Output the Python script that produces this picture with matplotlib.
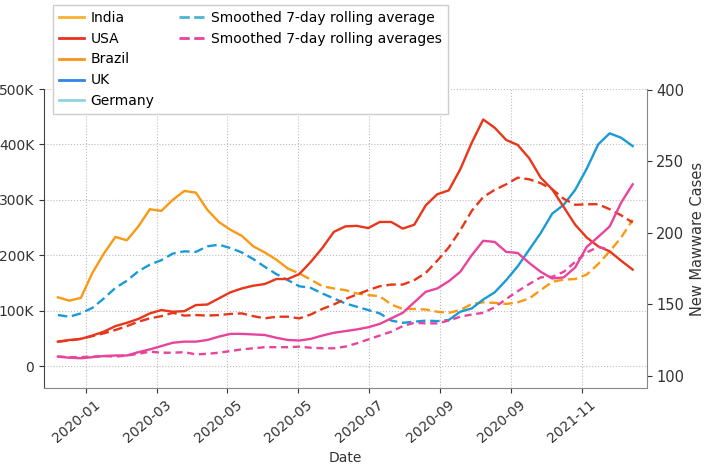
import numpy as np
import pandas as pd
import matplotlib
matplotlib.use('Agg')
import matplotlib.pyplot as plt
from matplotlib.lines import Line2D
from matplotlib.ticker import FuncFormatter
from matplotlib.transforms import ScaledTranslation

# sample dates (evenly spaced)
dates = pd.date_range('2019-12-08', '2021-04-16', periods=51)
tick_dates = pd.date_range('2020-01-01', periods=8, freq='61D')
tick_labels = ['2020-01', '2020-03', '2020-05', '2020-05', '2020-07', '2020-09', '2020-09', '2021-11']

# values in thousands (left axis)
orange_k = [124, 118, 123, 168, 203, 233, 227, 252, 283, 280, 300, 316, 313, 282, 260, 246, 235, 216, 205, 192,
            176, 167, 156, 144, 140, 137, 131, 128, 126, 111, 103, 103, 102, 98, 96, 101, 112, 115, 114, 112,
            115, 122, 137, 152, 156, 157, 165, 184, 207, 232, 264]
orange_split = 20
blue_k = [92, 89, 95, 105, 122, 141, 154, 171, 183, 191, 203, 207, 206, 216, 219, 213, 205, 193, 179, 166,
          155, 144, 141, 131, 122, 113, 107, 101, 95, 82, 78, 80, 82, 81, 83, 98, 104, 120, 133, 155,
          180, 210, 240, 275, 291, 318, 356, 400, 420, 412, 397]
blue_split = 34
usa_k = [44, 47, 49, 55, 62, 72, 78, 85, 95, 101, 98, 99, 110, 111, 122, 133, 140, 145, 148, 157,
         157, 166, 188, 213, 242, 252, 253, 249, 260, 260, 248, 255, 290, 310, 317, 355, 403, 445, 430, 408,
         399, 375, 340, 319, 287, 255, 232, 216, 207, 190, 174]
usa_avg_k = [44, 46, 49, 54, 59, 65, 72, 80, 86, 90, 96, 91, 92, 91, 92, 94, 95, 90, 86, 89,
             89, 86, 93, 103, 111, 121, 129, 137, 144, 147, 147, 155, 168, 190, 214, 245, 280, 305, 318, 328,
             340, 337, 330, 319, 302, 291, 292, 292, 283, 272, 259]
pink_k = [17, 15, 14, 16, 18, 19, 19, 25, 30, 36, 42, 44, 44, 47, 53, 58, 58, 57, 56, 51,
          47, 46, 49, 55, 60, 63, 66, 70, 76, 86, 96, 115, 134, 140, 153, 170, 200, 226, 224, 206,
          204, 186, 170, 158, 160, 178, 215, 233, 252, 295, 328]
pink_avg_k = [17, 16, 16, 17, 18, 17, 19, 22, 26, 24, 24, 25, 21, 22, 24, 27, 30, 32, 34, 34,
              34, 35, 33, 32, 32, 35, 41, 48, 55, 62, 72, 78, 77, 77, 82, 89, 93, 96, 106, 121,
              135, 148, 160, 161, 170, 188, 205, 215, 210]

legend_names = ['India', 'USA', 'Brazil', 'UK', 'Germany']
legend_colors = ['#f7b236', '#e8341c', '#f7941d', '#2f86e6', '#8fd3de']
avg_names = ['Smoothed 7-day rolling average', 'Smoothed 7-day rolling averages']
avg_colors = ['#4db5cc', '#e8429c']

c_orange = '#fa9914'
c_red = '#e8361a'
c_blue = '#1b9ad8'
c_pink = '#e8449c'

fig = plt.figure(figsize=(7.09, 4.66), dpi=100)
ax = fig.add_axes([0.062, 0.167, 0.850, 0.642])

k = 1000
orange = np.array(orange_k) * k
blue = np.array(blue_k) * k
lw = 1.7
ax.plot(dates[:orange_split + 1], orange[:orange_split + 1], color=c_orange, lw=lw)
ax.plot(dates[orange_split:], orange[orange_split:], color=c_orange, lw=lw, dashes=(4, 2))
ax.plot(dates[:blue_split + 1], blue[:blue_split + 1], color=c_blue, lw=lw, dashes=(4, 2))
ax.plot(dates[blue_split:], blue[blue_split:], color=c_blue, lw=lw)
ax.plot(dates, np.array(usa_k) * k, color=c_red, lw=lw)
ax.plot(dates, np.array(usa_avg_k) * k, color=c_red, lw=lw, dashes=(4, 2))
ax.plot(dates, np.array(pink_k) * k, color=c_pink, lw=lw)
ax.plot(dates[:len(pink_avg_k)], np.array(pink_avg_k) * k, color=c_pink, lw=lw, dashes=(3, 2))

ax.set_ylim(-40000, 500000)
ax.set_yticks(np.arange(0, 500001, 100000))
ax.yaxis.set_major_formatter(FuncFormatter(lambda v, p: '0' if v == 0 else f'{v / 1000:.0f}K'))
ax.set_xlim(pd.Timestamp('2019-11-26'), pd.Timestamp('2021-04-28'))
ax.set_xticks(tick_dates)
ax.set_xticklabels(tick_labels, rotation=40, ha='right', rotation_mode='anchor')
shift = ScaledTranslation(0.08, 0, fig.dpi_scale_trans)
for lab in ax.get_xticklabels():
    lab.set_transform(lab.get_transform() + shift)
ax.set_xlabel('Date', fontsize=10, color='#333333')
ax.grid(True, linestyle=':', color='#bbbbbb', lw=0.8)
ax.tick_params(axis='x', labelsize=10, colors='#333333')
ax.tick_params(axis='y', labelsize=10, colors='#333333')
for s in ['top', 'right']:
    ax.spines[s].set_visible(False)
ax.spines['left'].set_color('#444444')
ax.spines['bottom'].set_color('#888888')

ax2 = ax.twinx()
ax2.set_ylim(91.5, 300.5)
ax2.set_yticks([100, 150, 200, 250, 300])
ax2.set_yticklabels(['100', '150', '200', '250', '400'])
ax2.set_ylabel('New Mawware Cases', fontsize=10.5, color='#333333')
ax2.tick_params(labelsize=10.5, colors='#333333')
for s in ['top', 'left', 'bottom']:
    ax2.spines[s].set_visible(False)
ax2.spines['right'].set_color('#888888')

handles = [Line2D([], [], color=c, lw=2) for c in legend_colors]
handles += [Line2D([], [], color=c, lw=2, linestyle='--') for c in avg_colors]
handles += [Line2D([], [], color='none') for _ in range(3)]
labels = legend_names + avg_names + ['', '', '']
fig.legend(handles, labels, loc='upper left', bbox_to_anchor=(53 / 709, 1 - 5 / 466), ncol=2,
           fontsize=10, handlelength=1.8, handletextpad=0.5, columnspacing=1.8,
           fancybox=False, edgecolor='#cccccc', framealpha=1, borderaxespad=0)

fig.savefig('out.png', dpi=100)
